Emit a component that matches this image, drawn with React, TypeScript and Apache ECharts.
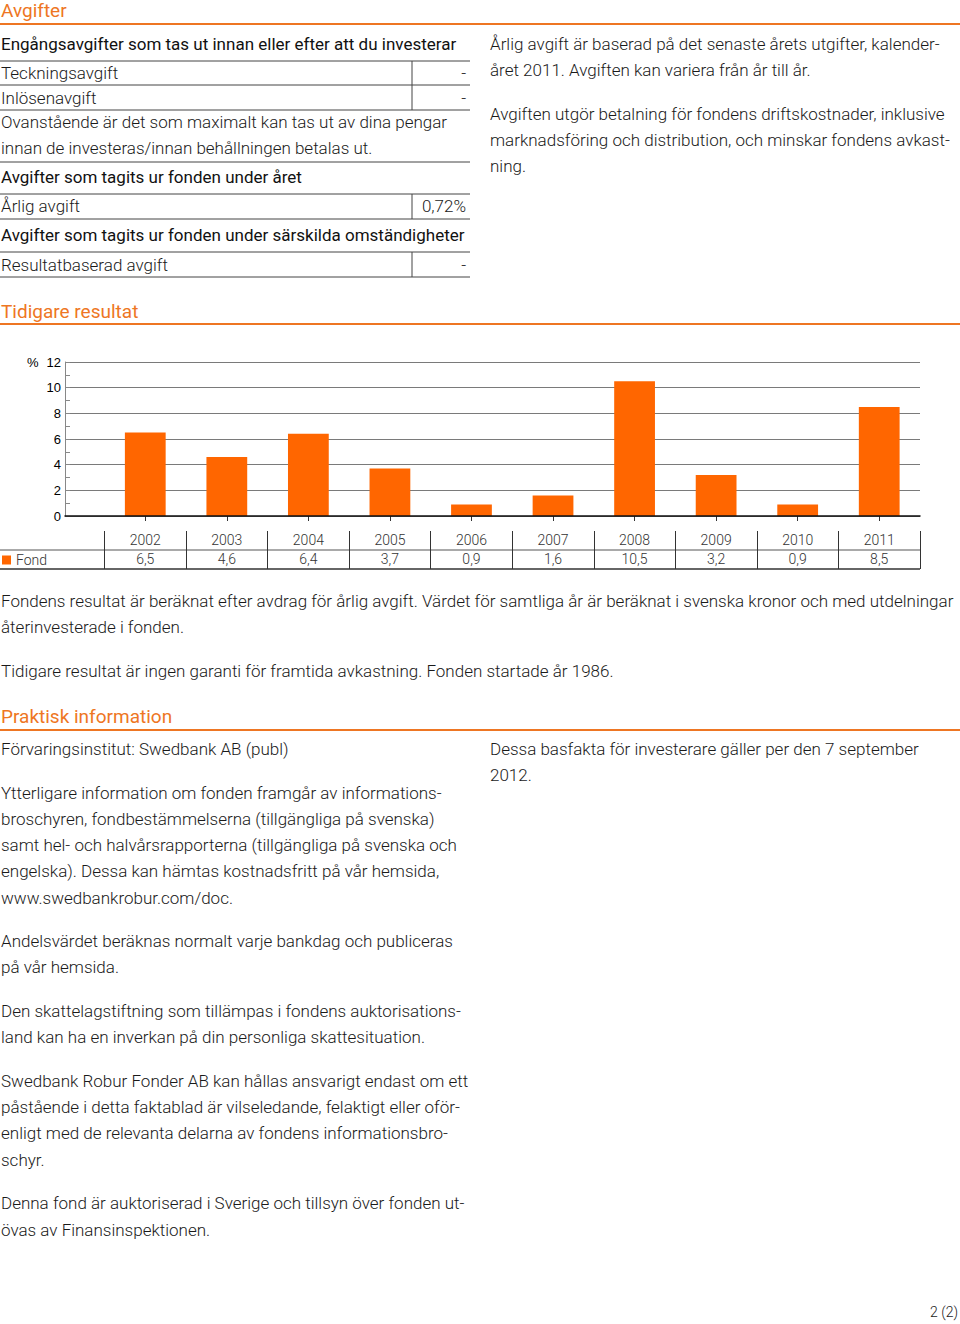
import React, { useEffect, useRef } from "react";
import * as echarts from "echarts";

// ---- Chart data ----
const years = ["2002", "2003", "2004", "2005", "2006", "2007", "2008", "2009", "2010", "2011"];
const fondValues = [6.5, 4.6, 6.4, 3.7, 0.9, 1.6, 10.5, 3.2, 0.9, 8.5];
const seriesName = "Fond";
const yMin = 0;
const yMax = 12;
const yInterval = 2;
const yUnit = "%";

// ---- Page texts ----
const headingFees = "Avgifter";
const headingResults = "Tidigare resultat";
const headingPractical = "Praktisk information";
const feeTableRows = [
  { kind: "head", label: "Engångsavgifter som tas ut innan eller efter att du investerar" },
  { kind: "row", label: "Teckningsavgift", value: "-" },
  { kind: "row", label: "Inlösenavgift", value: "-" },
  { kind: "note", label: "Ovanstående är det som maximalt kan tas ut av dina pengar" },
  { kind: "note", label: "innan de investeras/innan behållningen betalas ut." },
  { kind: "head", label: "Avgifter som tagits ur fonden under året" },
  { kind: "row", label: "Årlig avgift", value: "0,72%" },
  { kind: "head", label: "Avgifter som tagits ur fonden under särskilda omständigheter" },
  { kind: "row", label: "Resultatbaserad avgift", value: "-" },
];
const feeRightParagraphs = [
  ["Årlig avgift är baserad på det senaste årets utgifter, kalender-", "året 2011. Avgiften kan variera från år till år."],
  [
    "Avgiften utgör betalning för fondens driftskostnader, inklusive",
    "marknadsföring och distribution, och minskar fondens avkast-",
    "ning.",
  ],
];
const resultParagraphs = [
  [
    "Fondens resultat är beräknat efter avdrag för årlig avgift. Värdet för samtliga år är beräknat i svenska kronor och med utdelningar",
    "återinvesterade i fonden.",
  ],
  ["Tidigare resultat är ingen garanti för framtida avkastning. Fonden startade år 1986."],
];
const practicalLeft = [
  ["Förvaringsinstitut: Swedbank AB (publ)"],
  [
    "Ytterligare information om fonden framgår av informations-",
    "broschyren, fondbestämmelserna (tillgängliga på svenska)",
    "samt hel- och halvårsrapporterna (tillgängliga på svenska och",
    "engelska). Dessa kan hämtas kostnadsfritt på vår hemsida,",
    "www.swedbankrobur.com/doc.",
  ],
  ["Andelsvärdet beräknas normalt varje bankdag och publiceras", "på vår hemsida."],
  ["Den skattelagstiftning som tillämpas i fondens auktorisations-", "land kan ha en inverkan på din personliga skattesituation."],
  [
    "Swedbank Robur Fonder AB kan hållas ansvarigt endast om ett",
    "påstående i detta faktablad är vilseledande, felaktigt eller oför-",
    "enligt med de relevanta delarna av fondens informationsbro-",
    "schyr.",
  ],
  ["Denna fond är auktoriserad i Sverige och tillsyn över fonden ut-", "övas av Finansinspektionen."],
];
const practicalRight = [["Dessa basfakta för investerare gäller per den 7 september", "2012."]];
const pageNumber = "2 (2)";

// ---- Styles ----
const FONT = "Roboto, 'Noto Sans', sans-serif";
const AXIS_FONT = "'Liberation Sans', Arial, sans-serif";
const ORANGE = "#EE7623";
const BAR = "#FF6600";
const INK = "#1a1a1a";
const BODY_SIZE = 17;

function txt(text: string, x: number, y: number, o: any = {}) {
  const align = o.align || "left";
  return {
    type: "text",
    silent: true,
    style: {
      text,
      x,
      y,
      fill: o.color || INK,
      fontSize: o.size || BODY_SIZE,
      fontFamily: o.family || FONT,
      fontWeight: o.weight || 300,
      align,
      verticalAlign: "middle",
      textAlign: align,
      textVerticalAlign: "middle",
    },
  };
}
function hline(x1: number, x2: number, y: number, color = "#333", w = 1) {
  return { type: "line", silent: true, shape: { x1, y1: y, x2, y2: y }, style: { stroke: color, lineWidth: w } };
}
function vline(x: number, y1: number, y2: number, color = "#333", w = 1) {
  return { type: "line", silent: true, shape: { x1: x, y1, x2: x, y2 }, style: { stroke: color, lineWidth: w } };
}
function paragraphs(paras: string[][], x: number, y0: number, out: any[]) {
  const lh = 26.2;
  const gap = 17.5;
  let y = y0;
  paras.forEach((p, pi) => {
    if (pi > 0) y += gap;
    p.forEach((line) => {
      out.push(txt(line, x, y));
      y += lh;
    });
  });
}

export default function App() {
  const ref = useRef<HTMLDivElement>(null);
  useEffect(() => {
    if (!ref.current) return;
    const chart = echarts.init(ref.current, null, { renderer: "svg" });
    const g: any[] = [];

    // Section: Avgifter
    g.push(txt(headingFees, 1, 10, { color: ORANGE, size: 19, weight: 400 }));
    g.push(hline(0, 960, 24, ORANGE, 2));
    const rowY = [44, 73, 98, 122, 148, 177, 206, 235, 265];
    const lineAfter = [61, 85, 110, -1, 162, 194, 219, 252, 277];
    feeTableRows.forEach((r, i) => {
      const isHead = r.kind === "head";
      g.push(txt(r.label, 1, rowY[i], { weight: isHead ? 400 : 300, color: isHead ? "#111" : INK, size: BODY_SIZE }));
      if (r.kind === "row") {
        g.push(txt(r.value as string, 466, rowY[i], { align: "right" }));
        g.push(vline(412, lineAfter[i - 1] >= 0 ? lineAfter[i - 1] : lineAfter[i - 2], lineAfter[i], "#444", 1));
      }
      if (lineAfter[i] > 0) g.push(hline(0, 470, lineAfter[i], "#444", 1));
    });
    paragraphs(feeRightParagraphs, 490, 44, g);

    // Section: Tidigare resultat
    g.push(txt(headingResults, 1, 311, { color: ORANGE, size: 19, weight: 400 }));
    g.push(hline(0, 960, 324, ORANGE, 2));
    g.push(txt(yUnit, 27, 362, { family: AXIS_FONT, size: 13, weight: 400, color: "#000" }));
    g.push(hline(0, 920, 550, "#555", 1));
    g.push(hline(0, 920, 569, "#333", 1.5));
    paragraphs(resultParagraphs, 1, 601, g);

    // Section: Praktisk information
    g.push(txt(headingPractical, 1, 716, { color: ORANGE, size: 19, weight: 400 }));
    g.push(hline(0, 960, 730, ORANGE, 2));
    paragraphs(practicalLeft, 1, 749, g);
    paragraphs(practicalRight, 490, 749, g);
    g.push(txt(pageNumber, 958, 1312, { align: "right", size: 14 }));

    const fmt = (v: number) => v.toFixed(1).replace(".", ",");

    chart.setOption({
      animation: false,
      backgroundColor: "#fff",
      legend: {
        data: [seriesName],
        left: 2,
        top: 553,
        padding: 0,
        icon: "rect",
        itemWidth: 9,
        itemHeight: 9,
        selectedMode: false,
        textStyle: { fontSize: 14, color: "#333", fontFamily: FONT, fontWeight: 300 },
      },
      grid: [
        { left: 65, right: 40, top: 362, height: 154 },
        { left: 104.5, right: 40, top: 362, height: 154 },
      ],
      xAxis: [
        {
          gridIndex: 0,
          type: "category",
          data: [""],
          axisLine: { show: true, lineStyle: { color: "#111", width: 1.5 } },
          axisTick: { show: false },
          axisLabel: { show: false },
          splitLine: { show: false },
          z: 5,
        },
        {
          gridIndex: 1,
          type: "category",
          data: years,
          position: "bottom",
          axisLine: { show: false },
          axisTick: { show: true, alignWithLabel: true, length: 5, interval: 0, lineStyle: { color: "#333" } },
          axisLabel: { interval: 0, margin: 17, fontSize: 14, color: "#333", fontFamily: FONT, fontWeight: 300 },
        },
        {
          gridIndex: 1,
          type: "category",
          data: fondValues.map(fmt),
          position: "bottom",
          offset: 15,
          axisLine: { show: false },
          axisTick: { show: true, interval: 0, length: 38, lineStyle: { color: "#333", width: 1 } },
          axisLabel: { interval: 0, margin: 21, fontSize: 14, color: "#333", fontFamily: FONT, fontWeight: 300 },
        },
      ],
      yAxis: [
        {
          gridIndex: 0,
          type: "value",
          min: yMin,
          max: yMax,
          interval: yInterval,
          axisLine: { show: true, lineStyle: { color: "#888" } },
          axisTick: { show: true, inside: true, length: 5, lineStyle: { color: "#888" } },
          minorTick: { show: true, splitNumber: 2, length: 5, lineStyle: { color: "#888" } },
          splitLine: { show: true, lineStyle: { color: "#7a7a7a", width: 1.2 } },
          axisLabel: { margin: 4, fontSize: 13, color: "#000", fontFamily: AXIS_FONT },
        },
        { gridIndex: 1, type: "value", min: yMin, max: yMax, interval: yInterval, show: false },
      ],
      series: [
        {
          name: seriesName,
          type: "bar",
          xAxisIndex: 1,
          yAxisIndex: 1,
          data: fondValues,
          barWidth: "50%",
          itemStyle: { color: BAR },
          z: 3,
        },
      ],
      graphic: { elements: g },
    });
    return () => chart.dispose();
  }, []);
  return <div ref={ref} style={{ position: "absolute", left: 0, top: 0, width: 960, height: 1324 }} />;
}
